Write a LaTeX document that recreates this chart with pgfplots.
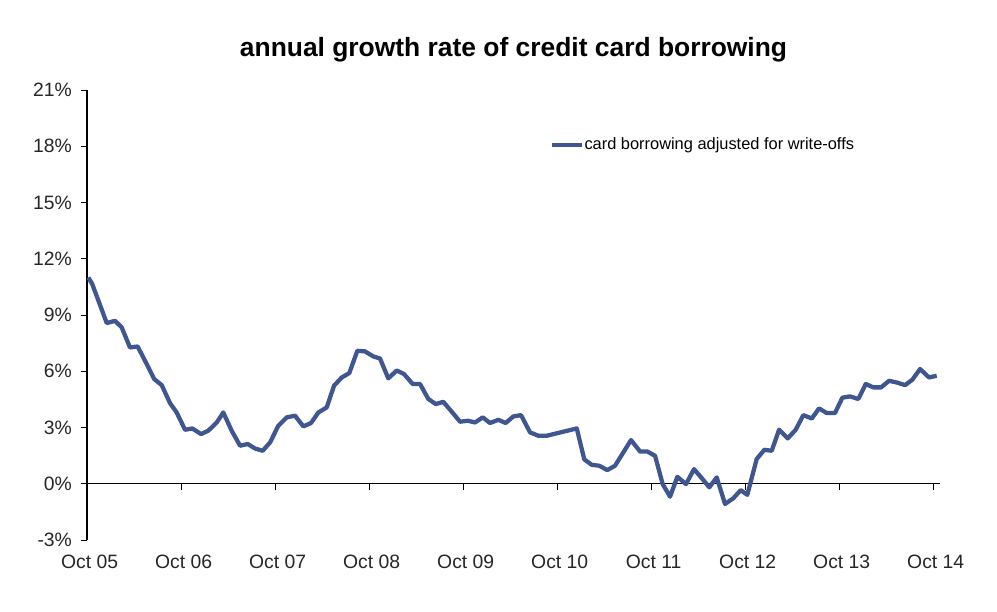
\documentclass[border=0pt]{standalone}
\usepackage{fontspec}
\setmainfont{Liberation Sans}
\usepackage{pgfplots}
\pgfplotsset{compat=1.18}
\definecolor{cardblue}{RGB}{64,86,145}

\pgfplotstableread{
t v
0.014 11.00
0.056 10.65
0.210 8.57
0.298 8.69
0.369 8.34
0.457 7.27
0.539 7.32
0.617 6.56
0.716 5.58
0.795 5.26
0.883 4.30
0.954 3.80
1.043 2.88
1.120 2.95
1.213 2.65
1.290 2.83
1.380 3.27
1.450 3.80
1.539 2.83
1.628 2.03
1.710 2.12
1.787 1.88
1.869 1.76
1.947 2.20
2.035 3.09
2.124 3.54
2.213 3.63
2.301 3.06
2.383 3.24
2.461 3.80
2.550 4.07
2.628 5.23
2.710 5.67
2.790 5.90
2.876 7.09
2.957 7.06
3.046 6.79
3.117 6.68
3.205 5.62
3.295 6.04
3.372 5.85
3.465 5.32
3.543 5.32
3.631 4.52
3.710 4.25
3.790 4.37
3.872 3.89
3.968 3.31
4.050 3.36
4.128 3.27
4.210 3.54
4.287 3.24
4.376 3.41
4.454 3.24
4.535 3.59
4.617 3.66
4.713 2.74
4.801 2.56
4.890 2.56
5.210 2.95
5.290 1.30
5.369 1.01
5.450 0.96
5.535 0.73
5.617 0.96
5.705 1.67
5.787 2.33
5.883 1.72
5.961 1.72
6.043 1.49
6.124 -0.02
6.202 -0.69
6.280 0.37
6.372 -0.02
6.457 0.78
6.539 0.30
6.620 -0.19
6.699 0.34
6.787 -1.08
6.876 -0.77
6.954 -0.34
7.024 -0.59
7.124 1.32
7.205 1.81
7.284 1.76
7.362 2.88
7.454 2.42
7.539 2.88
7.620 3.66
7.710 3.48
7.787 4.02
7.869 3.77
7.957 3.77
8.035 4.59
8.117 4.66
8.205 4.52
8.284 5.32
8.365 5.14
8.447 5.14
8.532 5.49
8.614 5.40
8.702 5.26
8.780 5.55
8.862 6.12
8.957 5.67
9.039 5.76
}\cardtable

\begin{document}
\begin{tikzpicture}
\begin{axis}[
    scale only axis,
    width=639.75pt, height=337.5pt,
    xmin=0, xmax=9.074,
    ymin=-3, ymax=21,
    axis x line*=middle,
    axis y line*=left,
    hide obscured x ticks=false,
    hide obscured y ticks=false,
    tick align=outside,
    major tick length=4.8pt,
    tick style={black, line width=0.7pt},
    axis line style={black, line width=0.8pt},
    xtick={0,1,2,3,4,5,6,7,8,9},
    xticklabels={Oct 05,Oct 06,Oct 07,Oct 08,Oct 09,Oct 10,Oct 11,Oct 12,Oct 13,Oct 14},
    ytick={-3,0,3,6,9,12,15,18,21},
    yticklabels={-3\%,0\%,3\%,6\%,9\%,12\%,15\%,18\%,21\%},
    ticklabel style={font=\fontsize{14.5}{17}\selectfont, text=black!85},
    xticklabel style={anchor=north, yshift=-45pt, xshift=2pt},
    yticklabel style={xshift=-3pt},
    title={annual growth rate of credit card borrowing},
    title style={font=\bfseries\fontsize{19.8}{23}\selectfont, anchor=base, yshift=19pt},
    legend style={draw=none, fill=none, at={(0.542,0.878)}, anchor=west,
        inner sep=0pt, font=\fontsize{12.3}{15}\selectfont,
        nodes={inner sep=0pt}},
    legend image code/.code={\draw[#1] (0pt,0pt) -- (23pt,0pt);},
]
\addplot[cardblue, line width=3.2pt, line join=round] table[x=t, y=v] {\cardtable};
\addlegendentry{card borrowing adjusted for write-offs}
\end{axis}
\path ([xshift=-65.25pt, yshift=-53.25pt]current axis.south west)
    rectangle ([xshift=42.75pt, yshift=67.5pt]current axis.north east);
\end{tikzpicture}
\end{document}
